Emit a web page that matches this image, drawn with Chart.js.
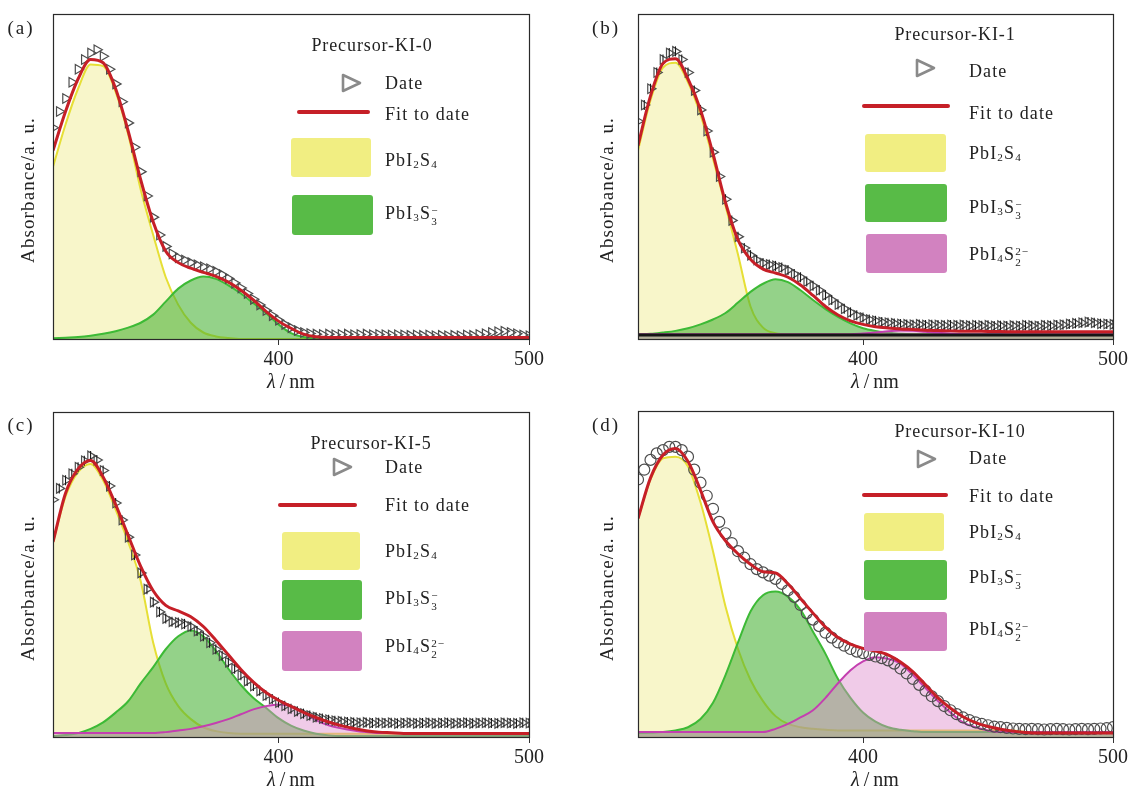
<!DOCTYPE html>
<html>
<head>
<meta charset="utf-8">
<script src="https://cdn.jsdelivr.net/npm/chart.js@4.4.0/dist/chart.umd.min.js"></script>
<style>
  body { margin: 0; background: #fff; overflow: hidden; }
  #page { position: relative; width: 1130px; height: 790px; overflow: hidden;
          font-family: "Liberation Serif", "Times New Roman", serif; color: #222; }
  canvas { position: absolute; }
  .t { position: absolute; white-space: nowrap; line-height: 1; }
  .leg { font-size: 18px; letter-spacing: 1.1px; transform: translateY(-50%); }
  .ttl { font-size: 18px; letter-spacing: 0.9px; transform: translate(-50%, -50%); }
  .ytl { font-size: 19px; letter-spacing: 1.1px; transform: translate(-50%, -50%) rotate(-90deg); }
  .xtl { font-size: 20px; transform: translate(-50%, -50%); }
  .pl { font-size: 19px; letter-spacing: 2px; transform: translate(-50%, -50%); }
  .box { position: absolute; border-radius: 3px; filter: blur(0.6px); }
  .ln { position: absolute; height: 4px; background: #c61f27; border-radius: 2px; }
  sub { font-size: 0.62em; vertical-align: -0.2em; line-height: 0; }
  .st { display: inline-flex; flex-direction: column; font-size: 0.62em; line-height: 1; vertical-align: 0.42em; }
</style>
</head>
<body>
<div id="page">
  <canvas id="chartA" width="565" height="395" style="left:0px;top:0px"></canvas>
  <canvas id="chartB" width="560" height="395" style="left:585px;top:0px"></canvas>
  <canvas id="chartC" width="565" height="392" style="left:0px;top:398px"></canvas>
  <canvas id="chartD" width="560" height="392" style="left:585px;top:398px"></canvas>
</div>
<script>
// Wavelength grids (nm)
const fitWavelengths = [310, 315, 320, 325, 330, 335, 340, 345, 350, 355, 360, 365, 370, 375, 380, 385, 390, 395, 400,
  405, 410, 415, 420, 425, 430, 435, 440, 445, 450, 455, 460, 465, 470, 475, 480, 485, 490, 495, 500];
const dataWavelengths = [310, 312.5, 315, 317.5, 320, 322.5, 325, 327.5, 330, 332.5,
  335, 337.5, 340, 342.5, 345, 347.5, 350, 352.5, 355, 357.5,
  360, 362.5, 365, 367.5, 370, 372.5, 375, 377.5, 380, 382.5,
  385, 387.5, 390, 392.5, 395, 397.5, 400, 402.5, 405, 407.5,
  410, 412.5, 415, 417.5, 420, 422.5, 425, 427.5, 430, 432.5,
  435, 437.5, 440, 442.5, 445, 447.5, 450, 452.5, 455, 457.5,
  460, 462.5, 465, 467.5, 470, 472.5, 475, 477.5, 480, 482.5,
  485, 487.5, 490, 492.5, 495, 497.5, 500];
const xTicks = [400, 500];

// (a) Precursor-KI-0
const dataA = [0.65, 0.70, 0.74, 0.79, 0.83, 0.86, 0.88, 0.89, 0.87, 0.83,
  0.785, 0.73, 0.665, 0.59, 0.515, 0.44, 0.375, 0.32, 0.285, 0.262,
  0.25, 0.243, 0.235, 0.228, 0.222, 0.216, 0.208, 0.198, 0.186, 0.172,
  0.157, 0.14, 0.122, 0.105, 0.088, 0.072, 0.058, 0.045, 0.035, 0.026,
  0.02, 0.017, 0.015, 0.014, 0.015, 0.013, 0.014, 0.015, 0.013, 0.014,
  0.015, 0.013, 0.014, 0.013, 0.012, 0.013, 0.012, 0.011, 0.012, 0.011,
  0.012, 0.010, 0.011, 0.010, 0.011, 0.010, 0.012, 0.011, 0.014, 0.016,
  0.020, 0.022, 0.024, 0.020, 0.016, 0.012, 0.010];
const fitA = [0.58, 0.70, 0.80, 0.86, 0.85, 0.77, 0.64, 0.49, 0.36, 0.27, 0.235, 0.218, 0.205, 0.193, 0.175, 0.15,
  0.12, 0.085, 0.055, 0.033, 0.015, 0.007, 0.005, 0.005, 0.005, 0.005, 0.005, 0.005, 0.005, 0.005, 0.005, 0.005,
  0.005, 0.005, 0.005, 0.005, 0.005, 0.005, 0.005];
const pbi2s4A = [0.53, 0.66, 0.77, 0.845, 0.84, 0.76, 0.63, 0.46, 0.32, 0.19, 0.105, 0.05, 0.02, 0.008, 0.003,
  0, 0, 0, 0, 0, 0, 0, 0, 0, 0, 0, 0, 0, 0, 0, 0, 0, 0, 0, 0, 0, 0, 0, 0];
const pbi3s3A = [0.002, 0.004, 0.006, 0.01, 0.016, 0.024, 0.035, 0.05, 0.075, 0.115, 0.155, 0.18, 0.192, 0.185,
  0.165, 0.14, 0.11, 0.08, 0.045, 0.018, 0.006, 0.002, 0, 0, 0, 0, 0, 0, 0, 0, 0, 0, 0, 0, 0, 0, 0, 0, 0];

// (b) Precursor-KI-1
const dataB = [0.67, 0.72, 0.77, 0.82, 0.86, 0.88, 0.885, 0.86, 0.82, 0.765,
  0.705, 0.64, 0.575, 0.50, 0.43, 0.365, 0.315, 0.28, 0.258, 0.243,
  0.234, 0.229, 0.225, 0.22, 0.212, 0.20, 0.19, 0.177, 0.164, 0.15,
  0.135, 0.12, 0.106, 0.093, 0.082, 0.073, 0.066, 0.06, 0.056, 0.052,
  0.05, 0.048, 0.046, 0.045, 0.044, 0.045, 0.043, 0.044, 0.043, 0.042,
  0.043, 0.042, 0.043, 0.041, 0.042, 0.041, 0.042, 0.04, 0.041, 0.04,
  0.041, 0.04, 0.042, 0.041, 0.04, 0.042, 0.041, 0.043, 0.044, 0.046,
  0.048, 0.05, 0.052, 0.05, 0.047, 0.046, 0.045];
const fitB = [0.595, 0.748, 0.848, 0.862, 0.80, 0.705, 0.57, 0.42, 0.305, 0.245, 0.215, 0.203, 0.19, 0.166, 0.134,
  0.10, 0.074, 0.056, 0.045, 0.038, 0.034, 0.031, 0.029, 0.027, 0.026, 0.025, 0.024, 0.024, 0.023, 0.023,
  0.022, 0.022, 0.022, 0.022, 0.022, 0.022, 0.022, 0.022, 0.022];
const pbi2s4B = [0.58, 0.735, 0.835, 0.85, 0.79, 0.69, 0.555, 0.41, 0.26, 0.10, 0.035, 0.018, 0.015,
  0.015, 0.015, 0.015, 0.015, 0.015, 0.015, 0.015, 0.015, 0.015, 0.015, 0.015, 0.015, 0.015, 0.015,
  0.015, 0.015, 0.015, 0.015, 0.015, 0.015, 0.015, 0.015, 0.015, 0.015, 0.015, 0.015];
const pbi3s3B = [0.015, 0.016, 0.02, 0.025, 0.033, 0.045, 0.06, 0.08, 0.112, 0.145, 0.17, 0.184, 0.175, 0.15,
  0.12, 0.092, 0.068, 0.048, 0.033, 0.025, 0.02, 0.016, 0.015, 0.015, 0.015, 0.015, 0.015, 0.015, 0.015,
  0.015, 0.015, 0.015, 0.015, 0.015, 0.015, 0.015, 0.015, 0.015, 0.015];
const pbi4s2B = [0.015, 0.015, 0.015, 0.015, 0.015, 0.015, 0.015, 0.015, 0.015, 0.015, 0.015, 0.015, 0.015,
  0.015, 0.015, 0.015, 0.015, 0.015, 0.017, 0.02, 0.024, 0.026, 0.025, 0.022, 0.019, 0.017,
  0.015, 0.015, 0.015, 0.015, 0.015, 0.015, 0.015, 0.015, 0.015, 0.015, 0.015, 0.015, 0.015];
const baselineX = [310, 500];
const baselineB = [0.012, 0.012];

// (c) Precursor-KI-5
const dataC = [0.73, 0.765, 0.79, 0.81, 0.83, 0.85, 0.865, 0.852, 0.82, 0.772,
  0.72, 0.668, 0.615, 0.56, 0.505, 0.455, 0.415, 0.385, 0.365, 0.355,
  0.352, 0.348, 0.34, 0.326, 0.31, 0.29, 0.27, 0.25, 0.23, 0.21,
  0.19, 0.172, 0.157, 0.142, 0.128, 0.117, 0.106, 0.096, 0.087, 0.079,
  0.072, 0.066, 0.061, 0.057, 0.053, 0.05, 0.048, 0.046, 0.045, 0.044,
  0.045, 0.043, 0.044, 0.043, 0.044, 0.042, 0.043, 0.044, 0.042, 0.043,
  0.044, 0.042, 0.043, 0.044, 0.042, 0.043, 0.044, 0.042, 0.043, 0.044,
  0.043, 0.042, 0.044, 0.043, 0.042, 0.044, 0.043];
const fitC = [0.60, 0.75, 0.825, 0.851, 0.80, 0.715, 0.62, 0.525, 0.45, 0.405, 0.388, 0.37, 0.34, 0.298, 0.253,
  0.208, 0.169, 0.137, 0.113, 0.094, 0.076, 0.06, 0.046, 0.035, 0.026, 0.019, 0.015, 0.013,
  0.011, 0.011, 0.011, 0.011, 0.011, 0.011, 0.011, 0.011, 0.011, 0.011, 0.011];
const pbi2s4C = [0.60, 0.74, 0.815, 0.84, 0.79, 0.70, 0.60, 0.48, 0.29, 0.165, 0.095, 0.055, 0.03, 0.018, 0.012,
  0.01, 0.01, 0.01, 0.01, 0.01, 0.01, 0.01, 0.01, 0.01, 0.01, 0.01, 0.01, 0.01, 0.01, 0.01, 0.01, 0.01,
  0.01, 0.01, 0.01, 0.01, 0.01, 0.01, 0.01];
const pbi3s3C = [0.003, 0.006, 0.012, 0.025, 0.045, 0.075, 0.11, 0.165, 0.215, 0.27, 0.31, 0.328, 0.31, 0.265,
  0.21, 0.16, 0.12, 0.09, 0.058, 0.035, 0.02, 0.01, 0.005, 0.003, 0.003, 0.003, 0.003, 0.003, 0.003,
  0.003, 0.003, 0.003, 0.003, 0.003, 0.003, 0.003, 0.003, 0.003, 0.003];
const pbi4s2C = [0.012, 0.012, 0.012, 0.012, 0.012, 0.012, 0.012, 0.012, 0.012, 0.015, 0.02, 0.025, 0.033,
  0.043, 0.055, 0.07, 0.085, 0.095, 0.1, 0.095, 0.075, 0.052, 0.036, 0.027, 0.02, 0.015,
  0.012, 0.012, 0.012, 0.012, 0.012, 0.012, 0.012, 0.012, 0.012, 0.012, 0.012, 0.012, 0.012];

// (d) Precursor-KI-10
const dataD = [0.79, 0.82, 0.85, 0.87, 0.88, 0.89, 0.89, 0.88, 0.86, 0.82,
  0.78, 0.74, 0.70, 0.66, 0.625, 0.595, 0.57, 0.55, 0.53, 0.515,
  0.505, 0.495, 0.485, 0.47, 0.45, 0.43, 0.405, 0.38, 0.36, 0.34,
  0.32, 0.305, 0.29, 0.28, 0.27, 0.262, 0.257, 0.252, 0.247, 0.242,
  0.235, 0.225, 0.21, 0.195, 0.178, 0.16, 0.142, 0.125, 0.11, 0.095,
  0.082, 0.07, 0.06, 0.052, 0.045, 0.04, 0.036, 0.032, 0.03, 0.028,
  0.026, 0.025, 0.024, 0.025, 0.024, 0.023, 0.024, 0.025, 0.024, 0.023,
  0.024, 0.025, 0.024, 0.025, 0.026, 0.027, 0.03];
const fitD = [0.67, 0.795, 0.865, 0.885, 0.845, 0.757, 0.66, 0.602, 0.562, 0.53, 0.507, 0.503, 0.47, 0.425, 0.38,
  0.337, 0.305, 0.285, 0.272, 0.264, 0.252, 0.23, 0.2, 0.16, 0.12, 0.088, 0.062, 0.044, 0.032, 0.024,
  0.018, 0.014, 0.012, 0.012, 0.012, 0.012, 0.012, 0.012, 0.012];
const pbi2s4D = [0.67, 0.79, 0.855, 0.86, 0.83, 0.72, 0.57, 0.40, 0.27, 0.175, 0.11, 0.064, 0.04, 0.03, 0.025,
  0.022, 0.02, 0.02, 0.02, 0.02, 0.02, 0.02, 0.02, 0.02, 0.02, 0.02, 0.02, 0.02, 0.02, 0.02, 0.02,
  0.015, 0.015, 0.015, 0.015, 0.015, 0.015, 0.015, 0.015];
const pbi3s3D = [0.012, 0.013, 0.015, 0.02, 0.03, 0.055, 0.105, 0.19, 0.29, 0.385, 0.435, 0.446, 0.43, 0.39,
  0.323, 0.255, 0.178, 0.12, 0.075, 0.047, 0.03, 0.022, 0.018, 0.015, 0.015, 0.015, 0.015, 0.015, 0.015,
  0.015, 0.015, 0.015, 0.015, 0.015, 0.015, 0.015, 0.015, 0.015, 0.015];
const pbi4s2D = [0.015, 0.015, 0.015, 0.015, 0.015, 0.015, 0.015, 0.015, 0.015, 0.015, 0.015, 0.025, 0.04,
  0.06, 0.082, 0.12, 0.165, 0.205, 0.232, 0.245, 0.24, 0.225, 0.19, 0.15, 0.11, 0.075, 0.045, 0.03,
  0.02, 0.015, 0.015, 0.015, 0.015, 0.015, 0.015, 0.015, 0.015, 0.015, 0.015];

const panelTitles = ['Precursor-KI-0', 'Precursor-KI-1', 'Precursor-KI-5', 'Precursor-KI-10'];
const panelLetters = ['(a)', '(b)', '(c)', '(d)'];
const seriesNames = ['Date', 'Fit to date', 'PbI<sub>2</sub>S<sub>4</sub>',
  'PbI<sub>3</sub>S<span class="st"><span>&minus;</span><span>3</span></span>',
  'PbI<sub>4</sub>S<span class="st"><span>2&minus;</span><span>2</span></span>'];

function pairs(xs, ys) {
  return xs.map(function (x, i) { return { x: x, y: ys[i] }; });
}

// cadre noir autour de la zone de tracé
const plotBox = {
  id: 'plotBox',
  afterDraw(chart) {
    const a = chart.chartArea, ctx = chart.ctx;
    ctx.save();
    ctx.strokeStyle = '#2a2a2a';
    ctx.lineWidth = 1.2;
    ctx.strokeRect(Math.round(a.left) + 0.5, Math.round(a.top) + 0.5,
      Math.round(a.right - a.left), Math.round(a.bottom - a.top));
    ctx.restore();
  }
};

const YELLOW = { fill: 'rgba(242, 238, 150, 0.5)', line: '#e6df36' };
const GREEN = { fill: 'rgba(70, 178, 52, 0.58)', line: '#3dba36' };
const PINK = { fill: 'rgba(222, 140, 205, 0.45)', line: '#c43fb0' };

function area(label, ys, c, order) {
  return { label: label, data: pairs(fitWavelengths, ys), borderColor: c.line, backgroundColor: c.fill,
    borderWidth: 2, fill: 'origin', pointRadius: 0, cubicInterpolationMode: 'monotone', order: order };
}
function fitLine(ys) {
  return { label: 'Fit to date', data: pairs(fitWavelengths, ys), borderColor: '#c61f27', borderWidth: 3,
    fill: false, pointRadius: 0, cubicInterpolationMode: 'monotone', order: 1 };
}
function markers(ys, style) {
  return { label: 'Date', data: pairs(dataWavelengths, ys), showLine: false,
    pointStyle: style, rotation: style === 'triangle' ? 90 : 0, pointRadius: 5.5,
    pointBorderColor: '#4d4d4d', pointBorderWidth: 1.2, pointBackgroundColor: 'rgba(0,0,0,0)', order: 2 };
}
function bars(ys) {
  return { label: 'bars', data: pairs(dataWavelengths, ys), showLine: false, pointStyle: 'line', rotation: 90,
    pointRadius: 5, pointBorderColor: '#1a1a1a', pointBorderWidth: 1.1, order: 2 };
}

function makeChart(id, pad, datasets) {
  const ctx = document.getElementById(id).getContext('2d');
  return new Chart(ctx, {
    type: 'line',
    data: { datasets: datasets },
    options: {
      responsive: false,
      animation: false,
      layout: { padding: pad },
      plugins: { legend: { display: false }, tooltip: { enabled: false } },
      scales: {
        x: {
          type: 'linear', min: 310, max: 500,
          afterBuildTicks: function (s) { s.ticks = xTicks.map(function (v) { return { value: v }; }); },
          afterFit: function (s) { s.height = 40; },
          grid: { drawOnChartArea: false, drawTicks: true, tickLength: 6, color: '#333', lineWidth: 1 },
          border: { display: false },
          ticks: { font: { family: 'Liberation Serif', size: 20 }, color: '#222', padding: 3,
                   maxRotation: 0, autoSkip: false }
        },
        y: { display: false, min: 0, max: 1 }
      }
    },
    plugins: [plotBox]
  });
}

makeChart('chartA', { left: 53, right: 36, top: 14, bottom: 16 }, [
  area('PbI2S4', pbi2s4A, YELLOW, 6), area('PbI3S3-', pbi3s3A, GREEN, 5),
  markers(dataA, 'triangle'), fitLine(fitA)
]);
makeChart('chartB', { left: 53, right: 32, top: 14, bottom: 16 }, [
  area('PbI2S4', pbi2s4B, YELLOW, 6), area('PbI3S3-', pbi3s3B, GREEN, 5), area('PbI4S2 2-', pbi4s2B, PINK, 4),
  { label: 'base', data: pairs(baselineX, baselineB), borderColor: '#151515', borderWidth: 3, pointRadius: 0, order: 3 },
  bars(dataB), markers(dataB, 'triangle'), fitLine(fitB)
]);
makeChart('chartC', { left: 53, right: 36, top: 14, bottom: 13 }, [
  area('PbI2S4', pbi2s4C, YELLOW, 6), area('PbI3S3-', pbi3s3C, GREEN, 5), area('PbI4S2 2-', pbi4s2C, PINK, 4),
  bars(dataC), markers(dataC, 'triangle'), fitLine(fitC)
]);
makeChart('chartD', { left: 53, right: 32, top: 13, bottom: 13 }, [
  area('PbI2S4', pbi2s4D, YELLOW, 6), area('PbI3S3-', pbi3s3D, GREEN, 5), area('PbI4S2 2-', pbi4s2D, PINK, 4),
  markers(dataD, 'circle'), fitLine(fitD)
]);

// Légendes et textes en HTML (indices / exposants)
const page = document.getElementById('page');
function text(cls, x, y, html) {
  const d = document.createElement('div');
  d.className = 't ' + cls;
  d.style.left = x + 'px';
  d.style.top = y + 'px';
  d.innerHTML = html;
  page.appendChild(d);
}
function rect(x, y, w, h, color) {
  const d = document.createElement('div');
  d.className = 'box';
  d.style.cssText = 'left:' + x + 'px;top:' + y + 'px;width:' + w + 'px;height:' + h + 'px;background:' + color;
  page.appendChild(d);
}
function redLine(x1, x2, y) {
  const d = document.createElement('div');
  d.className = 'ln';
  d.style.cssText = 'left:' + x1 + 'px;top:' + (y - 2) + 'px;width:' + (x2 - x1) + 'px';
  page.appendChild(d);
}
function triangle(cx, cy) {
  const d = document.createElement('div');
  d.className = 't';
  d.style.cssText = 'left:' + (cx - 11) + 'px;top:' + (cy - 10) + 'px';
  d.innerHTML = '<svg width="22" height="20"><polygon points="3,2 20,10 3,18" fill="none" stroke="#8a8a8a" stroke-width="2.6" stroke-linejoin="round"/></svg>';
  page.appendChild(d);
}

const legendLayout = [
  { title: [372, 45], tri: [351, 83], date: [385, 83], line: [297, 370, 112], fit: [385, 114],
    boxes: [[291, 138, 80, 39, 160], [292, 195, 81, 40, 216]] },
  { title: [955, 34], tri: [925, 68], date: [969, 71], line: [862, 950, 106], fit: [969, 113],
    boxes: [[865, 134, 81, 38, 153], [865, 184, 82, 38, 210], [866, 234, 81, 39, 257]] },
  { title: [371, 443], tri: [342, 467], date: [385, 467], line: [278, 357, 505], fit: [385, 505],
    boxes: [[282, 532, 78, 38, 551], [282, 580, 80, 40, 601], [282, 631, 80, 40, 649]] },
  { title: [960, 431], tri: [926, 459], date: [969, 458], line: [862, 948, 495], fit: [969, 496],
    boxes: [[864, 513, 80, 38, 532], [864, 560, 83, 40, 580], [864, 612, 83, 39, 632]] }
];
const boxColors = ['#f1ee82', '#58bb47', '#d282c0'];
const textX = [385, 969, 385, 969];

legendLayout.forEach(function (L, i) {
  text('ttl', L.title[0], L.title[1], panelTitles[i]);
  triangle(L.tri[0], L.tri[1]);
  text('leg', L.date[0], L.date[1], seriesNames[0]);
  redLine(L.line[0], L.line[1], L.line[2]);
  text('leg', L.fit[0], L.fit[1], seriesNames[1]);
  L.boxes.forEach(function (b, j) {
    rect(b[0], b[1], b[2], b[3], boxColors[j]);
    text('leg', textX[i], b[4], seriesNames[2 + j]);
  });
});

// lettres de panneau et titres d'axes
const panelOrigins = [[0, 0], [585, 0], [0, 398], [585, 398]];
panelOrigins.forEach(function (o, i) {
  const left = o[0] === 0 ? 0 : 585;
  text('pl', o[0] === 0 ? 21 : 606, o[1] === 0 ? 27 : 424, panelLetters[i]);
  text('ytl', o[0] === 0 ? 27 : 606, o[1] === 0 ? 190 : 588, 'Absorbance/a. u.');
  text('xtl', o[0] === 0 ? 291 : 875, o[1] === 0 ? 381 : 779, '<i>&lambda;</i>&thinsp;/&thinsp;nm');
});
</script>
</body>
</html>
